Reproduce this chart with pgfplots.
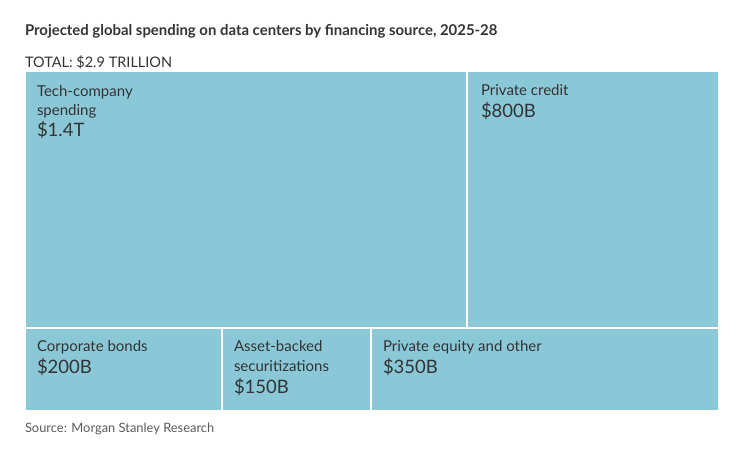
\documentclass[border=0pt]{standalone}
\usepackage{pgfplots}
\pgfplotsset{compat=1.18}
\usepackage{fontspec}
\setmainfont{Lato}
\definecolor{boxfill}{HTML}{8AC8D8}
\definecolor{txt}{HTML}{333333}
\definecolor{srcgray}{HTML}{5A5A5A}

\tikzset{
  lab/.style={text=txt, anchor=base west, inner sep=0pt, outer sep=0pt, font=\fontsize{15bp}{18bp}\selectfont},
  val/.style={lab, font=\fontsize{18.5bp}{22bp}\selectfont},
}

\begin{document}
\begin{tikzpicture}
\begin{axis}[
  width=738bp, height=468bp, scale only axis,
  xmin=0, xmax=738, ymin=0, ymax=468, y dir=reverse,
  axis lines=none, ticks=none, clip=false,
]
% invisible frame so the page is the full canvas
\addplot[draw=none, mark=none, forget plot] coordinates {(0,0) (738,0) (738,468) (0,468)};
% treemap tiles in pixel units (x0,y0)-(x1,y1)
\addplot[fill=boxfill, draw=none] coordinates {(26,72) (466,72) (466,327) (26,327)} -- cycle;   % tech
\addplot[fill=boxfill, draw=none] coordinates {(468,72) (718,72) (718,327) (468,327)} -- cycle;  % private credit
\addplot[fill=boxfill, draw=none] coordinates {(26,329) (221,329) (221,410) (26,410)} -- cycle;  % corporate bonds
\addplot[fill=boxfill, draw=none] coordinates {(223,329) (370,329) (370,410) (223,410)} -- cycle; % ABS
\addplot[fill=boxfill, draw=none] coordinates {(372,329) (718,329) (718,410) (372,410)} -- cycle; % PE

\node[lab, font=\fontsize{14.9bp}{17bp}\bfseries\selectfont] at (axis cs:25,35.5) {Projected global spending on data centers by financing source, 2025-28};
\node[lab, font=\fontsize{14.5bp}{17bp}\selectfont] at (axis cs:25,68) {TOTAL: \$2.9 TRILLION};

\node[lab] at (axis cs:37,96) {Tech-company};
\node[lab] at (axis cs:37,115.5) {spending};
\node[val] at (axis cs:37,136.5) {\$1.4T};

\node[lab] at (axis cs:481,95.5) {Private credit};
\node[val] at (axis cs:481,117) {\$800B};

\node[lab] at (axis cs:37,351) {Corporate bonds};
\node[val] at (axis cs:37,373.5) {\$200B};

\node[lab] at (axis cs:234,351) {Asset-backed};
\node[lab] at (axis cs:234,371) {securitizations};
\node[val] at (axis cs:234,393.5) {\$150B};

\node[lab] at (axis cs:383,351) {Private equity and other};
\node[val] at (axis cs:383,373.5) {\$350B};

\node[lab, font=\fontsize{12.9bp}{15bp}\selectfont, text=srcgray] at (axis cs:25,432) {Source: Morgan Stanley Research};
\end{axis}
\end{tikzpicture}
\end{document}
